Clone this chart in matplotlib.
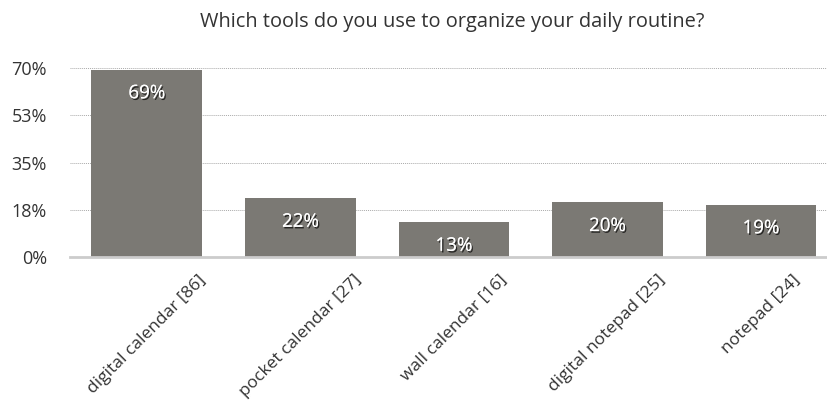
import matplotlib.pyplot as plt
import matplotlib.patheffects as pe
from matplotlib.transforms import offset_copy

plt.rcParams['font.family'] = ['Open Sans', 'DejaVu Sans']

categories = ['digital calendar [86]', 'pocket calendar [27]', 'wall calendar [16]',
              'digital notepad [25]', 'notepad [24]']
percent = [69.4, 21.8, 12.9, 20.2, 19.4]
bar_labels = ['69%', '22%', '13%', '20%', '19%']
yticks = [0, 17.5, 35, 52.5, 70]
ytick_labels = ['0%', '18%', '35%', '53%', '70%']

fig = plt.figure(figsize=(8.27, 4.03), dpi=100)
ax = fig.add_axes([70 / 827, (403 - 257) / 403, 757 / 827, (257 - 68) / 403])

x = list(range(len(categories)))
ax.bar(x, percent, width=0.72, color='#7b7974', zorder=2)
ax.set_xlim(-0.5, 4.43)
ax.set_ylim(0, 70)

ax.set_yticks(yticks)
ax.set_yticklabels(ytick_labels, fontsize=13, color='#333333')
ax.yaxis.grid(True, linestyle=(0, (1, 1)), color='#aaaaaa', linewidth=0.7, zorder=0)
ax.tick_params(axis='y', length=0, pad=16.5)

ax.set_xticks(x)
ax.set_xticklabels(categories, rotation=45, ha='center', va='top',
                   fontsize=12.5, color='#333333')
ax.tick_params(axis='x', length=0, pad=11)

for s in ['top', 'right', 'left']:
    ax.spines[s].set_visible(False)
ax.spines['bottom'].set_color('#cccccc')
ax.spines['bottom'].set_linewidth(2)
ax.spines['bottom'].set_zorder(3)

shadow = [pe.withSimplePatchShadow(offset=(1, -1.2), shadow_rgbFace='black', alpha=0.7), pe.Normal()]
for xi, v, lab in zip(x, percent, bar_labels):
    t = offset_copy(ax.transData, fig=fig, x=0, y=-17, units='points')
    ax.text(xi, v, lab, transform=t, ha='center', va='center', fontsize=13.5,
            color='white', path_effects=shadow, zorder=4)

fig.text(452 / 827, 1 - 22 / 403, 'Which tools do you use to organize your daily routine?',
         ha='center', va='center', fontsize=14.4, color='#333333')

fig.savefig('out.png', dpi=100)
